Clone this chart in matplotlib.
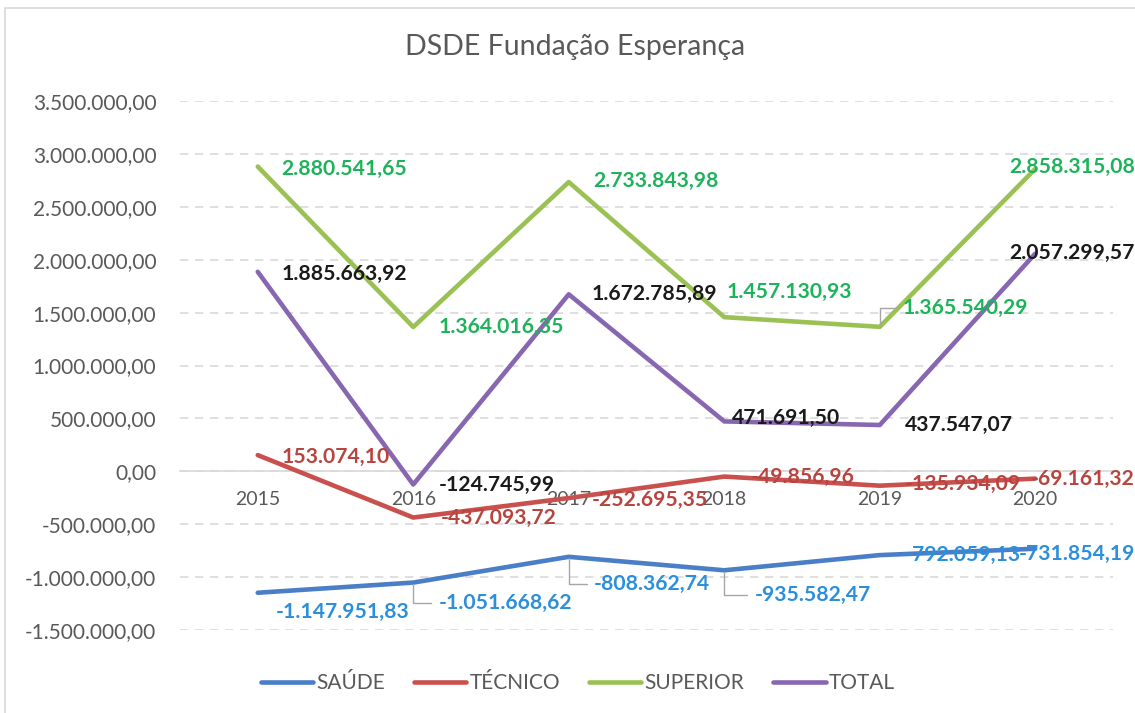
import matplotlib
matplotlib.use("Agg")
import matplotlib.pyplot as plt
from matplotlib.patches import Rectangle

plt.rcParams['font.family'] = ['Lato', 'DejaVu Sans']

# data
years = ['2015', '2016', '2017', '2018', '2019', '2020']
saude = [-1147951.83, -1051668.62, -808362.74, -935582.47, -792059.13, -731854.19]
tecnico = [153074.10, -437093.72, -252695.35, -49856.96, -135934.09, -69161.32]
superior = [2880541.65, 1364016.35, 2733843.98, 1457130.93, 1365540.29, 2858315.08]
total = [1885663.92, -124745.99, 1672785.89, 471691.50, 437547.07, 2057299.57]
y_ticks = [-1500000, -1000000, -500000, 0, 500000, 1000000, 1500000,
           2000000, 2500000, 3000000, 3500000]

# label offsets in pixels (dx to left edge, dy up) and leader flags
off_saude = [(18, -19), (25, -20), (25, -27), (30, -25), (25, 0), (-17, -5)]
lead_saude = [False, True, True, True, False, False]
off_tecnico = [(24, -2), (27, 0), (23, -2), (27, 0), (25, 2), (-5, 0)]
off_superior = [(24, -2), (25, 0), (25, 1), (2, 25), (23, 19), (-26, 2)]
lead_superior = [False, False, False, False, True, False]
off_total = [(24, -2), (25, 0), (23, 0), (8, 3), (25, 0), (-26, 1)]


def br_fmt(v):
    s = '{:,.2f}'.format(v)
    return s.replace(',', '#').replace('.', ',').replace('#', '.')


fig = plt.figure(figsize=(11.35, 7.13), dpi=100)
fig.patches.append(Rectangle((5 / 1135, -0.1), 1.2, (713 - 8) / 713 + 0.1,
                             transform=fig.transFigure, fill=False,
                             edgecolor='#d9d9d9', linewidth=1.2))
ax = fig.add_axes([180 / 1135, 83 / 713, 933 / 1135, 529 / 713])

x = list(range(len(years)))
series = [
    ('SAÚDE', saude, '#4a7ec7', '#2b8fdc', off_saude, lead_saude),
    ('TÉCNICO', tecnico, '#c9504c', '#b8443f', off_tecnico, [False] * 6),
    ('SUPERIOR', superior, '#9bc154', '#1eb35b', off_superior, lead_superior),
    ('TOTAL', total, '#8767b0', '#1a1a1a', off_total, [False] * 6),
]

for name, vals, lc, tc, offs, leads in series:
    ax.plot(x, vals, color=lc, linewidth=3.3, label=name,
            solid_capstyle='round', solid_joinstyle='round', zorder=3)

for name, vals, lc, tc, offs, leads in series:
    for i, v in enumerate(vals):
        dx, dy = offs[i]
        kw = {}
        if leads[i]:
            kw['arrowprops'] = dict(arrowstyle='-', color='#a6a6a6', lw=1,
                                    shrinkA=3, shrinkB=1,
                                    connectionstyle='angle,angleA=0,angleB=90,rad=0')
        ax.annotate(br_fmt(v), (i, v), xytext=(dx, dy), textcoords='offset pixels',
                    ha='left', va='center', fontsize=15.2, color=tc,
                    fontweight='bold', annotation_clip=False, zorder=4, **kw)

ax.set_xlim(-0.5, 5.5)
ax.set_ylim(-1500000, 3500000)
ax.set_yticks(y_ticks)
ax.set_yticklabels([br_fmt(t) for t in y_ticks])
ax.set_xticks(x)
ax.set_xticklabels(years)
ax.grid(axis='y', color='#d9d9d9', linestyle=(0, (5, 4)), linewidth=1.2)
ax.set_axisbelow(True)
for s in ['top', 'right', 'left']:
    ax.spines[s].set_visible(False)
ax.spines['bottom'].set_position(('data', 0))
ax.spines['bottom'].set_color('#d9d9d9')
ax.spines['bottom'].set_linewidth(1.2)
ax.tick_params(axis='both', length=0, labelcolor='#595959')
ax.tick_params(axis='x', pad=14, labelsize=14)
ax.tick_params(axis='y', pad=17, labelsize=15)

fig.text(575 / 1135, 1 - 47 / 713, 'DSDE Fundação Esperança', ha='center',
         va='center', fontsize=20.5, color='#595959')

fig.legend(loc='center', bbox_to_anchor=(578 / 1135, 1 - 683 / 713), ncol=4,
           frameon=False, fontsize=15, handlelength=2.5, handletextpad=0.15,
           columnspacing=1.4, labelcolor='#595959')

fig.savefig('out.png', dpi=100)
